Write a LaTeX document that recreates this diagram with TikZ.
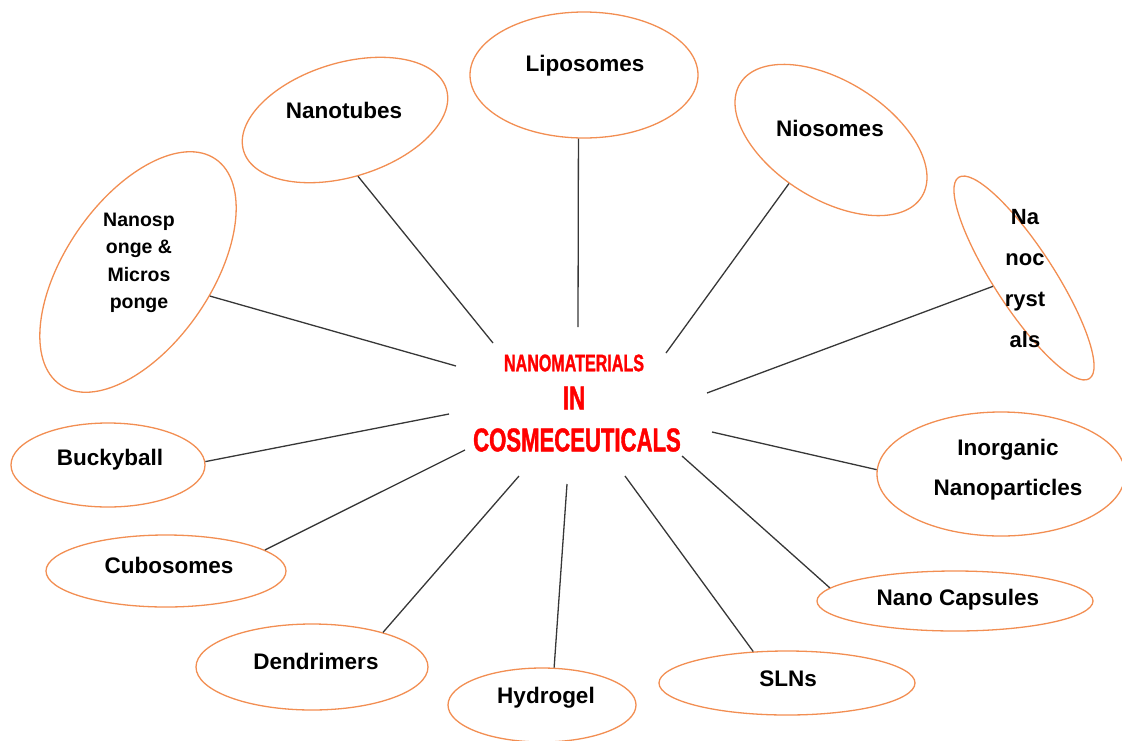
\documentclass[tikz,border=0pt]{standalone}
\usepackage{fontspec}
\setmainfont{Liberation Sans}
\newfontfamily\condfont[FakeStretch=0.67, BoldFeatures={FakeBold=1.2}]{Liberation Sans}
\usetikzlibrary{shapes.geometric}
\definecolor{bubbleorange}{RGB}{242,142,82}
\definecolor{linegray}{RGB}{55,55,55}
\definecolor{hubred}{RGB}{255,0,0}
\tikzset{
  bubble/.style={ellipse, draw=bubbleorange, line width=1.3pt, inner sep=0pt},
  lbl/.style={font=\fontsize{22.5}{26}\selectfont\bfseries, align=center, inner sep=0pt},
  spoke/.style={draw=linegray, line width=1.3pt},
  hubtext/.style={text=hubred, inner sep=0pt}
}

\begin{document}
\begin{tikzpicture}[x=1pt,y=-1pt]
\useasboundingbox (0,0) rectangle (1122,740);

% bubbles
\node[bubble, minimum width=228pt, minimum height=126pt] (lipo) at (584,75) {};
\node[bubble, minimum width=212pt, minimum height=114pt, rotate=17] (tubes) at (345,120) {};
\node[bubble, minimum width=214pt, minimum height=118pt, rotate=-32] (nio) at (831,140) {};
\node[bubble, minimum width=240pt, minimum height=60pt, rotate=-57] (cryst) at (1024,278) {};
\node[bubble, minimum width=274pt, minimum height=146pt, rotate=55.5] (sponge) at (138,272) {};
\node[bubble, minimum width=194pt, minimum height=84pt] (bucky) at (108,465) {};
\node[bubble, minimum width=240pt, minimum height=72pt] (cubo) at (166,571) {};
\node[bubble, minimum width=232pt, minimum height=86pt] (dendri) at (312,667) {};
\node[bubble, minimum width=188pt, minimum height=74pt] (hydro) at (542,705) {};
\node[bubble, minimum width=256pt, minimum height=64pt] (sln) at (787,683) {};
\node[bubble, minimum width=276pt, minimum height=60pt] (caps) at (955,601) {};
\node[bubble, minimum width=248pt, minimum height=124pt] (inorg) at (1001,474) {};

% labels
\node[lbl] (lipo-txt) at (585,66) {Liposomes};
\node[lbl] (tubes-txt) at (344,110) {Nanotubes};
\node[lbl] (nio-txt) at (830,128) {Niosomes};
\node[lbl, font=\fontsize{22}{41}\selectfont\bfseries] (cryst-txt) at (1025,279) {Na\\noc\\ryst\\als};
\node[lbl, font=\fontsize{19.5}{27.5}\selectfont\bfseries] (sponge-txt) at (139,263) {Nanosp\\onge \&\\Micros\\ponge};
\node[lbl] (bucky-txt) at (110,460) {Buckyball};
\node[lbl] (cubo-txt) at (169,565) {Cubosomes};
\node[lbl] (dendri-txt) at (316,661) {Dendrimers};
\node[lbl] (hydro-txt) at (546,698) {Hydrogel};
\node[lbl] (sln-txt) at (788,679) {SLNs};
\node[lbl] (caps-txt) at (958,600) {Nano Capsules};
\node[lbl, font=\fontsize{22.5}{40}\selectfont\bfseries] (inorg-txt) at (1008,470) {Inorganic\\Nanoparticles};

% centre
\node[hubtext, font=\fontsize{24}{26}\condfont\bfseries] (hub-a) at (574,363) {NANOMATERIALS};
\node[hubtext, font=\fontsize{33}{36}\condfont\bfseries] (hub-b) at (574,398) {IN};
\node[hubtext, font=\fontsize{33}{36}\condfont\bfseries] (hub-c) at (577,440) {COSMECEUTICALS};

% spokes
\coordinate (lipo-end) at (578,327);
\coordinate (tubes-end) at (493,343);
\coordinate (nio-end) at (666,353);
\coordinate (cryst-end) at (707,393);
\coordinate (sponge-end) at (456,366);
\coordinate (bucky-end) at (449,414);
\coordinate (cubo-end) at (465,450);
\coordinate (dendri-end) at (519,476);
\coordinate (hydro-end) at (567,484);
\coordinate (sln-end) at (625,476);
\coordinate (caps-end) at (682,456);
\coordinate (inorg-end) at (712,432);
\draw[spoke] (lipo.265) -- (lipo-end);
\draw[spoke] (tubes.266) -- (tubes-end);
\draw[spoke] (nio.258) -- (nio-end);
\draw[spoke] (cryst.252) -- (cryst-end);
\draw[spoke] (sponge.286) -- (sponge-end);
\draw[spoke] (bucky.2) -- (bucky-end);
\draw[spoke] (cubo.12) -- (cubo-end);
\draw[spoke] (dendri.26) -- (dendri-end);
\draw[spoke] (hydro.72) -- (hydro-end);
\draw[spoke] (sln.137) -- (sln-end);
\draw[spoke] (caps.174) -- (caps-end);
\draw[spoke] (inorg.178) -- (inorg-end);
\end{tikzpicture}
\end{document}
